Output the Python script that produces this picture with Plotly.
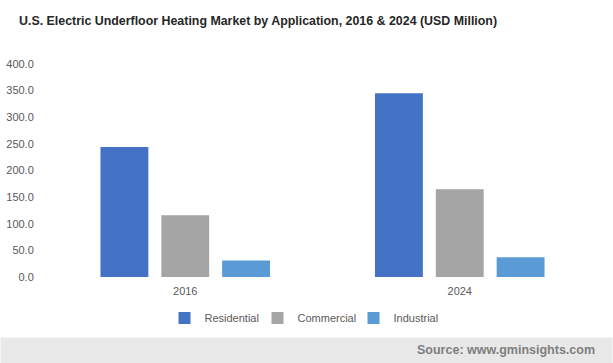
import plotly.graph_objects as go

years = ["2016", "2024"]
residential = [244, 345]
commercial = [116, 165]
industrial = [31, 37]
series_names = ["Residential", "Commercial", "Industrial"]
colors = ["#4472C4", "#A5A5A5", "#5B9BD5"]
y_ticks = [0, 50, 100, 150, 200, 250, 300, 350, 400]
y_tick_labels = [f"{v:.1f}" for v in y_ticks]

W, H = 613, 363
legend_ids = ["legend", "legend2", "legend3"]
legend_x = [164.5, 257.5, 353.5]

fig = go.Figure()
for name, vals, col, lid in zip(series_names, [residential, commercial, industrial], colors, legend_ids):
    fig.add_trace(go.Bar(name=name, x=years, y=vals, marker_color=col, marker_line_width=0, legend=lid,
                         showlegend=True))

ml, mr, mt, mb = 47.5, 15.5, 64, 86.3
band_h = 26
legend_style = dict(orientation="h", xref="container", xanchor="left", y=1 - 318 / H, yref="container",
                    yanchor="middle", font=dict(size=11, color="#595959"), itemwidth=30,
                    bgcolor="rgba(0,0,0,0)", borderwidth=0, visible=True)
fig.update_layout(
    template="none",
    showlegend=True,
    width=W, height=H,
    margin=dict(l=ml, r=mr, t=mt, b=mb, pad=0, autoexpand=False),
    paper_bgcolor="white", plot_bgcolor="white",
    barmode="group", bargap=0.335, bargroupgap=0.213,
    font=dict(family="Liberation Sans, Arial", size=11, color="#595959"),
    title=dict(text="<b>U.S. Electric Underfloor Heating Market by Application, 2016 & 2024 (USD Million)</b>",
               x=19 / W, xanchor="left", xref="container", y=1 - 21 / H, yanchor="middle",
               pad=dict(l=0, r=0, t=0, b=0),
               font=dict(family="Liberation Sans, Arial", size=12.4, color="#262626")),
    xaxis=dict(showgrid=False, showline=False, zeroline=False, ticks="", automargin=False,
               tickfont=dict(size=11, color="#595959")),
    yaxis=dict(range=[0, 400], tickvals=y_ticks, ticktext=y_tick_labels, showgrid=False, automargin=False,
               zeroline=False, showline=False, ticks="outside", ticklen=11, tickcolor="rgba(0,0,0,0)",
               tickfont=dict(size=11, color="#595959")),
    legend=dict(x=legend_x[0] / W, **legend_style),
    legend2=dict(x=legend_x[1] / W, **legend_style),
    legend3=dict(x=legend_x[2] / W, **legend_style),
    shapes=[dict(type="rect", xref="paper", yref="paper", x0=-ml / (W - ml - mr), x1=1 + mr / (W - ml - mr),
                 y0=-mb / (H - mt - mb), y1=-(mb - band_h) / (H - mt - mb), fillcolor="#E8E8E8", line_width=0,
                 layer="below")],
    annotations=[dict(text="<b>Source: www.gminsights.com</b>", xref="paper", yref="paper",
                      x=1, xanchor="right", y=-(mb - band_h / 2) / (H - mt - mb), yanchor="middle", showarrow=False,
                      font=dict(family="Liberation Sans, Arial", size=12.5, color="#7F7F7F"))],
)
fig.update_xaxes(ticklabelstandoff=6)
fig.write_html("out.html", config={"displayModeBar": False},
               post_script="document.body.style.margin='0';document.body.style.overflow='hidden';")
